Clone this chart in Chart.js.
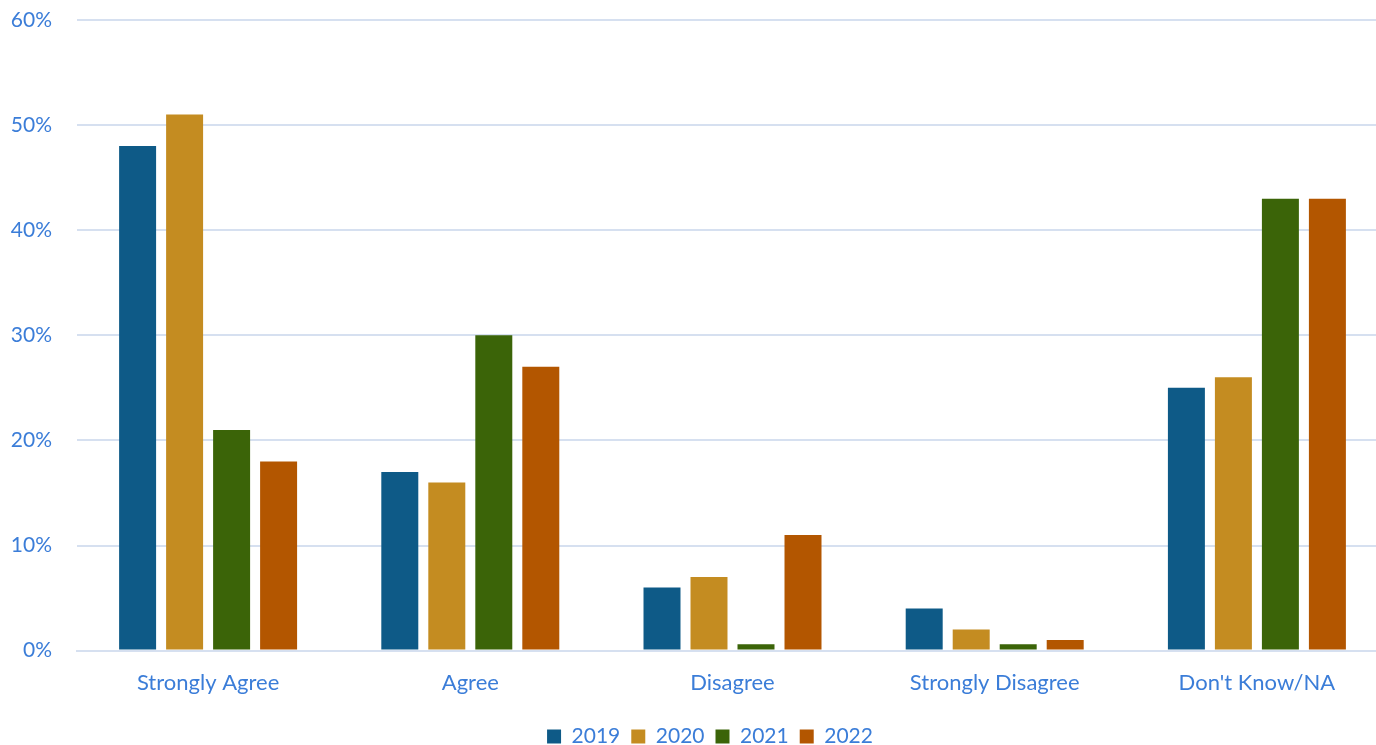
<!DOCTYPE html>
<html>
<head>
<meta charset="utf-8">
<script src="https://cdn.jsdelivr.net/npm/chart.js@4/dist/chart.umd.min.js"></script>
<style>
html,body{margin:0;padding:0;background:#fff;overflow:hidden;width:1376px;height:745px;}
#wrap{width:1388px;height:745px;position:relative;}
</style>
</head>
<body>
<div id="wrap"><canvas id="c"></canvas></div>
<script>
const categories = ["Strongly Agree", "Agree", "Disagree", "Strongly Disagree", "Don't Know/NA"];
const years = ["2019", "2020", "2021", "2022"];
const values2019 = [48, 17, 6, 4, 25];
const values2020 = [51, 16, 7, 2, 26];
const values2021 = [21, 30, 0.6, 0.6, 43];
const values2022 = [18, 27, 11, 1, 43];
const yTicks = [0, 10, 20, 30, 40, 50, 60];

const colors = ["#0e5a87", "#c48c21", "#3b6408", "#b35600"];
const series = [values2019, values2020, values2021, values2022];
const textColor = "#3b7dd8";
const gridColor = "#d6e0f0";
const fontFamily = "Lato, 'Open Sans', sans-serif";

const legendShift = {
  id: 'legendShift',
  afterLayout(chart) {
    if (chart.legend) { chart.legend.left += 16; chart.legend.right += 16; }
  }
};

new Chart(document.getElementById('c'), {
  type: 'bar',
  data: {
    labels: categories,
    datasets: series.map((s, i) => ({
      label: years[i],
      data: s,
      backgroundColor: colors[i],
      borderWidth: 0,
      categoryPercentage: 0.717,
      barPercentage: 0.787
    }))
  },
  options: {
    responsive: true,
    maintainAspectRatio: false,
    animation: false,
    layout: { padding: { left: 0, right: 0, top: 0, bottom: -12 } },
    plugins: {
      tooltip: { enabled: false },
      legend: {
        position: 'bottom',
        labels: {
          color: textColor,
          font: { family: fontFamily, size: 21 },
          boxWidth: 14,
          boxHeight: 14,
          padding: 11
        }
      }
    },
    scales: {
      x: {
        grid: { display: false, drawTicks: false },
        border: { display: true, color: gridColor, width: 2 },
        ticks: { color: textColor, font: { family: fontFamily, size: 22 }, padding: 19 }
      },
      y: {
        min: 0,
        max: 60,
        afterBuildTicks: (axis) => { axis.ticks = yTicks.map(v => ({ value: v })); },
        afterFit: (scale) => { scale.width = 77; scale.paddingTop = 20; },
        grid: { color: gridColor, lineWidth: 2, drawTicks: false },
        border: { display: false },
        ticks: {
          color: textColor,
          font: { family: fontFamily, size: 21 },
          padding: 25,
          callback: (v) => v + '%'
        }
      }
    }
  },
  plugins: [legendShift]
});
</script>
</body>
</html>
